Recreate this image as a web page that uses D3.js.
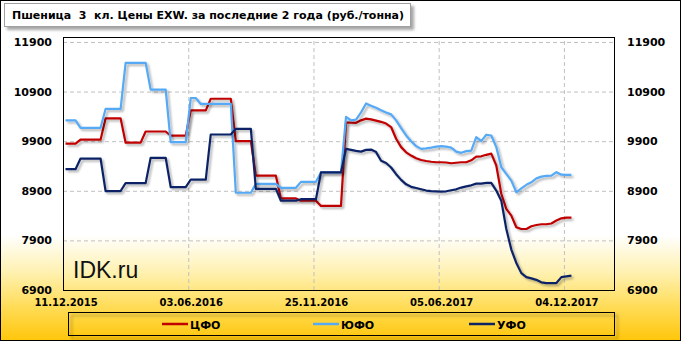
<!DOCTYPE html>
<html>
<head>
<meta charset="utf-8">
<script src="https://cdn.jsdelivr.net/npm/d3@7"></script>
<style>
  body { margin: 0; padding: 0; background: #fff; }
  svg { display: block; }
  .ax text { font-family: "DejaVu Sans", Verdana, sans-serif; font-weight: bold; fill: #000; }
  .ax path { display: none; }
  .ax line { stroke: none; }
  .grid line { stroke: #c0c0c0; stroke-dasharray: 4,3; }
  .grid path { display: none; }
</style>
</head>
<body>
<div class="chart-area"></div>
<script>
// weekly points, index 0 = 11.12.2015
var cfo = [
  9850, 9850, 9850, 9930, 9930, 9930, 9930, 9930, 10360, 10360,
  10360, 10360, 9870, 9870, 9870, 9870, 10095, 10095, 10095, 10095,
  10095, 10010, 10010, 10010, 10010, 10520, 10520, 10520, 10520, 10755,
  10755, 10755, 10755, 10755, 9900, 9900, 9900, 9900, 9205, 9205,
  9205, 9205, 9205, 8745, 8745, 8745, 8745, 8700, 8700, 8700,
  8700, 8595, 8595, 8595, 8595, 8595, 10275, 10275, 10270, 10320,
  10355, 10340, 10315, 10290, 10255, 10185, 9950, 9780, 9675, 9610,
  9555, 9520, 9500, 9485, 9475, 9475, 9470, 9455, 9465, 9475,
  9475, 9515, 9590, 9595, 9625, 9650, 9410, 8840, 8535, 8400,
  8165, 8130, 8130, 8185, 8210, 8225, 8225, 8240, 8300, 8345,
  8360, 8360
];
var yufo = [
  10320, 10320, 10320, 10170, 10170, 10170, 10170, 10170, 10550, 10550,
  10550, 10550, 11480, 11480, 11480, 11480, 11480, 10940, 10940, 10940,
  10940, 9880, 9880, 9880, 9880, 10770, 10770, 10650, 10650, 10650,
  10650, 10650, 10650, 10650, 8860, 8860, 8860, 8860, 9040, 9040,
  9040, 9040, 9040, 8960, 8960, 8960, 8960, 9080, 9080, 9080,
  9080, 9270, 9270, 9270, 9270, 9270, 10390, 10320, 10335, 10480,
  10660, 10615, 10575, 10525, 10480, 10440, 10320, 10165, 10015, 9900,
  9800, 9745, 9755, 9770, 9790, 9800, 9790, 9770, 9690, 9665,
  9700, 9710, 9980, 9900, 10030, 10015, 9780, 9375, 9240, 9105,
  8870, 8950, 9020, 9070, 9150, 9185, 9200, 9205, 9275, 9225,
  9220, 9220
];
var ufo = [
  9335, 9335, 9335, 9550, 9550, 9550, 9550, 9550, 8895, 8895,
  8895, 8895, 9055, 9055, 9055, 9055, 9055, 9565, 9565, 9565,
  9565, 8975, 8975, 8975, 8975, 9125, 9125, 9125, 9125, 10035,
  10035, 10035, 10035, 10035, 10150, 10150, 10150, 10150, 8940, 8940,
  8940, 8940, 8940, 8700, 8700, 8700, 8700, 8730, 8730, 8730,
  8730, 9270, 9270, 9270, 9270, 9270, 9745, 9725, 9705, 9690,
  9725, 9730, 9680, 9505, 9460, 9370, 9235, 9120, 9030, 8980,
  8955, 8930, 8905, 8895, 8890, 8885, 8890, 8910, 8930, 8965,
  8990, 9010, 9045, 9045, 9060, 9060, 8905, 8700, 8130, 7715,
  7445, 7240, 7160, 7135, 7105, 7055, 7040, 7040, 7040, 7160,
  7175, 7190
];
var tickIdx = [0, 25, 50, 75, 100];
var tickLabels = ["11.12.2015", "03.06.2016", "25.11.2016", "05.06.2017", "04.12.2017"];
var yTicks = [6900, 7900, 8900, 9900, 10900, 11900];
var seriesNames = ["ЦФО", "ЮФО", "УФО"];
var nCats = 110;

var IDK_CHART = (function(){

    return {

	draw:function(){

	    var W = 681, H = 341;
	    var margin = {top:37, right:67, bottom:51, left:63},
		width = W - margin.left - margin.right,
		height = H - margin.top - margin.bottom;

	    var colors = ["#c00000", "#55a9f5", "#0c2466"];
	    var seriesData = [cfo, yufo, ufo];

	    var svg = d3.select(".chart-area").append("svg")
		.attr("width", W)
		.attr("height", H);

	    var defs = svg.append("defs");
	    var grad = defs.append("linearGradient")
		.attr("id", "bg").attr("x1", 0).attr("y1", 0).attr("x2", 0).attr("y2", 1);
	    grad.append("stop").attr("offset", "0.69").attr("stop-color", "#ffffff");
	    grad.append("stop").attr("offset", "0.80").attr("stop-color", "#fff1b0");
	    grad.append("stop").attr("offset", "0.90").attr("stop-color", "#ffdc58");
	    grad.append("stop").attr("offset", "1").attr("stop-color", "#ffc60a");

	    var shadow = defs.append("filter").attr("id", "shadow")
		.attr("x", "-5%").attr("y", "-5%").attr("width", "110%").attr("height", "120%");
	    shadow.append("feDropShadow")
		.attr("dx", 2).attr("dy", 2).attr("stdDeviation", 1)
		.attr("flood-color", "#000").attr("flood-opacity", 0.3);

	    var boxShadow = defs.append("filter").attr("id", "boxShadow")
		.attr("x", "-5%").attr("y", "-20%").attr("width", "110%").attr("height", "160%");
	    boxShadow.append("feDropShadow")
		.attr("dx", 3).attr("dy", 3).attr("stdDeviation", 1.5)
		.attr("flood-color", "#000").attr("flood-opacity", 0.35);

	    svg.append("rect")
		.attr("x", 0.5).attr("y", 0.5)
		.attr("width", W - 1).attr("height", H - 1)
		.attr("fill", "url(#bg)")
		.attr("stroke", "#000");

	    // title
	    svg.append("rect")
		.attr("x", 4.5).attr("y", 3.5)
		.attr("width", 406).attr("height", 23)
		.attr("fill", "#fff")
		.attr("stroke", "#a0a0a0")
		.attr("filter", "url(#boxShadow)");
	    svg.append("text")
		.attr("x", 12).attr("y", 19)
		.attr("textLength", 392)
		.attr("lengthAdjust", "spacing")
		.style("white-space", "pre")
		.style("font-family", "'DejaVu Sans', Verdana, sans-serif")
		.style("font-weight", "bold")
		.style("font-size", "11px")
		.text("Пшеница  3  кл. Цены EXW. за последние 2 года (руб./тонна)");

	    var g = svg.append("g")
		.attr("transform", "translate(" + margin.left + "," + margin.top + ")");

	    var x = d3.scaleLinear()
		.domain([-0.5, nCats - 0.5])
		.range([0, width]);

	    var y = d3.scaleLinear()
		.domain([6900, 12000])
		.range([height, 0]);

	    // grid
	    g.append("g")
		.attr("class", "grid")
		.call(d3.axisLeft(y).tickValues(yTicks.slice(1)).tickSize(-width).tickFormat(""));

	    g.append("g")
		.attr("class", "grid")
		.attr("transform", "translate(0," + height + ")")
		.call(d3.axisBottom(x)
		      .tickValues(tickIdx.slice(1).map(function(d){ return d - 0.5; }))
		      .tickSize(-height).tickFormat(""));

	    // watermark
	    g.append("text")
		.attr("x", 10).attr("y", 240.5)
		.style("font-family", "'Liberation Sans', Arial, sans-serif")
		.style("font-size", "23px")
		.style("fill", "#111")
		.text("IDK.ru");

	    g.append("rect")
		.attr("x", 0.5).attr("y", 0.5)
		.attr("width", width).attr("height", height)
		.attr("fill", "none")
		.attr("stroke", "#000");

	    var line = d3.line()
		.x(function(d, i){ return x(i); })
		.y(function(d){ return y(d); });

	    seriesData.forEach(function(s, k){
		g.append("path")
		    .datum(s)
		    .attr("fill", "none")
		    .attr("stroke", colors[k])
		    .attr("stroke-width", 2.2)
		    .attr("stroke-linejoin", "round")
		    .attr("filter", "url(#shadow)")
		    .attr("d", line);
	    });

	    // axes
	    var fmt = d3.format("d");
	    g.append("g")
		.attr("class", "ax")
		.attr("transform", "translate(-11,0)")
		.style("font-size", "11px")
		.call(d3.axisLeft(y).tickValues(yTicks).tickSize(0).tickPadding(0).tickFormat(fmt));

	    g.append("g")
		.attr("class", "ax")
		.attr("transform", "translate(" + (width + 13) + ",0)")
		.style("font-size", "11px")
		.call(d3.axisRight(y).tickValues(yTicks).tickSize(0).tickPadding(0).tickFormat(fmt));

	    g.append("g")
		.attr("class", "ax")
		.attr("transform", "translate(0," + (height + 9) + ")")
		.style("font-size", "10px")
		.call(d3.axisBottom(x).tickValues(tickIdx).tickSize(0).tickPadding(0)
		      .tickFormat(function(d, i){ return tickLabels[i]; }));

	    // legend
	    var lg = svg.append("g");
	    lg.append("rect")
		.attr("x", 68.5).attr("y", 312.5)
		.attr("width", 546).attr("height", 23)
		.attr("fill", "none")
		.attr("stroke", "#000")
		.attr("filter", "url(#boxShadow)");

	    var legX = [162, 313, 469];
	    seriesNames.forEach(function(name, k){
		lg.append("line")
		    .attr("x1", legX[k]).attr("x2", legX[k] + 26)
		    .attr("y1", 324).attr("y2", 324)
		    .attr("stroke", colors[k])
		    .attr("stroke-width", 2.5);
		lg.append("text")
		    .attr("x", legX[k] + 28).attr("y", 328.5)
		    .style("font-family", "'DejaVu Sans', Verdana, sans-serif")
		    .style("font-weight", "bold")
		    .style("font-size", "11px")
		    .text(name);
	    });

	}
    };

}());

IDK_CHART.draw();
</script>
</body>
</html>
